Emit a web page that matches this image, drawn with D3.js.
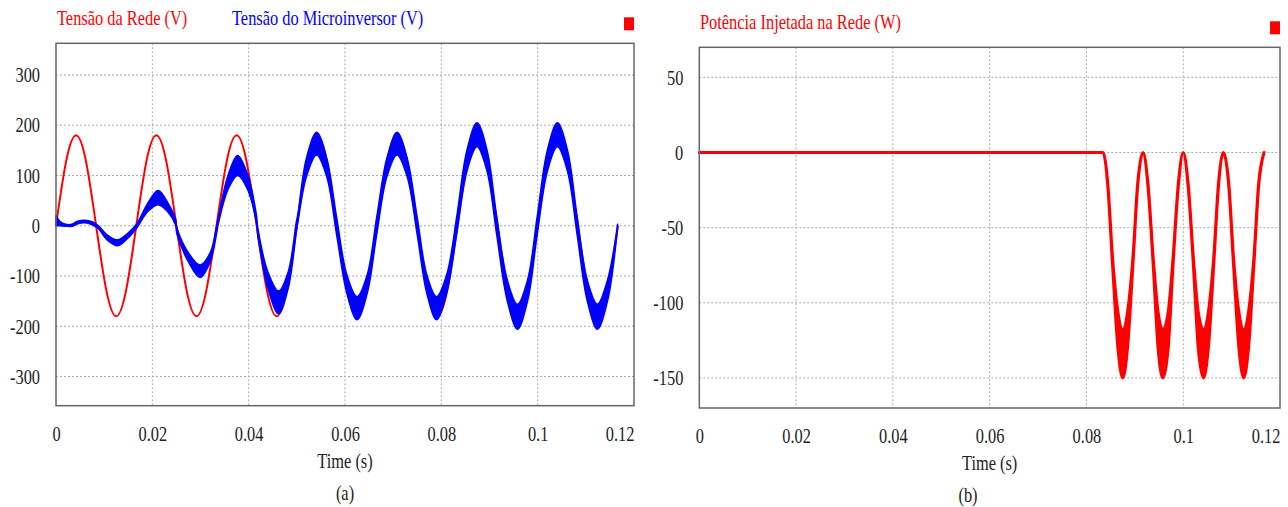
<!DOCTYPE html>
<html>
<head>
<meta charset="utf-8">
<script src="https://cdn.jsdelivr.net/npm/d3@7"></script>
<style>
    body { margin: 0; background: #fff; }
</style>
</head>
<body>
<svg id="chart" width="1288" height="507"></svg>
<script>
// tick labels
var timeTicks = [0, 0.02, 0.04, 0.06, 0.08, 0.1, 0.12];
var voltTicks = [-300, -200, -100, 0, 100, 200, 300];
var powerTicks = [-150, -100, -50, 0, 50];

// grid voltage (V)
var gridT = [0, 0.00208, 0.00417, 0.00625, 0.00833, 0.01042, 0.0125, 0.01458,
    0.01667, 0.01875, 0.02083, 0.02292, 0.025, 0.02708, 0.02917, 0.03125,
    0.03333, 0.03542, 0.0375, 0.03958, 0.04167, 0.04375, 0.04583, 0.04792,
    0.05, 0.05208, 0.05417, 0.05625, 0.05833, 0.06042, 0.0625, 0.06458,
    0.06667, 0.06875, 0.07083, 0.07292, 0.075, 0.07708, 0.07917, 0.08125,
    0.08333, 0.08542, 0.0875, 0.08958, 0.09167, 0.09375, 0.09583, 0.09792,
    0.1, 0.10208, 0.10417, 0.10625, 0.10833, 0.11042, 0.1125, 0.11458, 0.11667];
var gridV = [0, 127, 180, 127, 0, -127, -180, -127,
    0, 127, 180, 127, 0, -127, -180, -127,
    0, 127, 180, 127, 0, -127, -180, -127,
    0, 127, 180, 127, 0, -127, -180, -127,
    0, 127, 180, 127, 0, -127, -180, -127,
    0, 127, 180, 127, 0, -127, -180, -127,
    0, 127, 180, 127, 0, -127, -180, -127, 0];

// microinverter voltage (V): lower / upper edge of the ripple band
var invT = [0, 0.0008, 0.002, 0.0033, 0.0045, 0.006, 0.0075, 0.0088, 0.0106, 0.0128, 0.0149,
    0.0168, 0.019, 0.0212, 0.0232, 0.0248, 0.0251, 0.0275, 0.0299, 0.032, 0.0334,
    0.0337, 0.0357, 0.0377, 0.0398, 0.0416, 0.0419, 0.044, 0.0462, 0.0482, 0.0499,
    0.0502, 0.052, 0.0541, 0.0562, 0.0583, 0.0604, 0.0625, 0.0646, 0.0666,
    0.0687, 0.0708, 0.0729, 0.075, 0.077, 0.079, 0.0811, 0.0832,
    0.0853, 0.0874, 0.0895, 0.0915, 0.0937, 0.0958, 0.0979, 0.0999,
    0.102, 0.1041, 0.1062, 0.1082, 0.1103, 0.1124, 0.1145, 0.1166];
var invLo = [0, 0, -1, -1, 4, 6, 2, -6, -28, -40, -25,
    -4, 28, 42, 28, 2, -16, -72, -103, -72, -12,
    4, 72, 100, 72, 6, -20, -125, -175, -125, -12,
    6, 98, 141, 98, -20, -135, -187, -135, -16,
    98, 141, 98, -18, -135, -187, -135, -16,
    108, 157, 108, -18, -150, -206, -150, -18,
    108, 157, 108, -18, -150, -206, -150, -3];
var invHi = [20, 9, 3, 3, 9, 11, 8, 0, -18, -28, -15,
    4, 44, 70, 46, 14, -4, -54, -78, -54, 2,
    16, 100, 140, 102, 22, -4, -92, -130, -92, 8,
    22, 135, 186, 135, 14, -98, -141, -98, 18,
    135, 186, 135, 16, -98, -141, -98, 18,
    150, 205, 150, 18, -108, -156, -108, 18,
    150, 205, 150, 18, -108, -156, -108, 3];

// injected power (W): lower / upper edge
var powT = [0, 0.08, 0.0834, 0.0844, 0.0854, 0.0865, 0.0875, 0.0885, 0.0896, 0.0906,
    0.0917, 0.0927, 0.0938, 0.0948, 0.0958, 0.0969, 0.0979, 0.099,
    0.1, 0.101, 0.1021, 0.1031, 0.1042, 0.1052, 0.1063, 0.1073,
    0.1083, 0.1094, 0.1104, 0.1115, 0.1125, 0.1135, 0.1146, 0.1156, 0.1167];
var powLo = [0, 0, 0, -22, -75, -130, -150, -130, -75, -22,
    0, -22, -75, -130, -150, -130, -75, -22,
    0, -22, -75, -130, -150, -130, -75, -22,
    0, -22, -75, -130, -150, -130, -75, -22, 0];
var powHi = [0, 0, 0, -20, -70, -106, -118, -106, -70, -20,
    0, -20, -70, -106, -118, -106, -70, -20,
    0, -20, -70, -106, -118, -106, -70, -20,
    0, -20, -70, -106, -118, -106, -70, -20, 0];

var svg = d3.select("svg#chart"),
    font = "'Liberation Serif', 'Times New Roman', serif",
    squeeze = "scale(0.78,1)";

function label(g, x, y, s, anchor, color, size) {
    return g.append("text")
        .attr("transform", "translate(" + x + "," + y + ") " + squeeze)
        .attr("text-anchor", anchor)
        .attr("font-family", font)
        .attr("font-size", size)
        .attr("fill", color)
        .text(s);
}

function panel(box, yDomain, yTicks, caption, captionX) {
    var x = d3.scaleLinear().domain([0, 0.12]).range([box.left, box.right]),
        y = d3.scaleLinear().domain(yDomain).range([box.bottom, box.top]),
        g = svg.append("g");

    g.append("g").selectAll("line")
        .data(yTicks)
        .enter()
        .append("line")
        .attr("x1", box.left).attr("x2", box.right)
        .attr("y1", d => y(d)).attr("y2", d => y(d))
        .style("stroke", "#aaa")
        .style("stroke-dasharray", "2,2");

    g.append("g").selectAll("line")
        .data(timeTicks.slice(1, -1))
        .enter()
        .append("line")
        .attr("y1", box.top).attr("y2", box.bottom)
        .attr("x1", d => x(d)).attr("x2", d => x(d))
        .style("stroke", "#aaa")
        .style("stroke-dasharray", "2,2");

    var xa = g.append("g")
        .attr("transform", "translate(0," + box.bottom + ")")
        .call(d3.axisBottom(x).tickValues(timeTicks).tickSize(0).tickPadding(20)
            .tickFormat(d3.format("~g")));
    xa.select(".domain").remove();
    xa.selectAll("text")
        .attr("transform", squeeze)
        .attr("font-family", font)
        .attr("font-size", 21)
        .attr("fill", "#222")
        .attr("text-anchor", (d, i) => i == timeTicks.length - 1 ? "end" : "middle");

    var ya = g.append("g")
        .attr("transform", "translate(" + box.left + ",0)")
        .call(d3.axisLeft(y).tickValues(yTicks).tickSize(0).tickPadding(20.5)
            .tickFormat(d => String(d)));
    ya.select(".domain").remove();
    ya.selectAll("text")
        .attr("transform", squeeze)
        .attr("font-family", font)
        .attr("font-size", 21)
        .attr("fill", "#222");

    var mid = (box.left + box.right) / 2;
    label(g, mid, box.bottom + 62, "Time (s)", "middle", "#222", 21);
    label(g, captionX, box.bottom + 94, caption, "middle", "#222", 21);

    // little red marker above the top-right corner
    g.append("rect")
        .attr("x", box.right - 10).attr("y", box.top - 26)
        .attr("width", 10).attr("height", 13)
        .style("fill", "#ff0000");

    return { x: x, y: y, g: g, box: box };
}

// (a) voltages
var a = panel({ left: 56, right: 634, top: 43.3, bottom: 405.7 }, [-358, 363], voltTicks, "(a)", 345);

a.g.append("path")
    .datum(gridT.map((t, i) => [t, gridV[i]]))
    .attr("d", d3.line().x(d => a.x(d[0])).y(d => a.y(d[1])).curve(d3.curveNatural))
    .style("fill", "none")
    .style("stroke", "#ff0000")
    .style("stroke-width", 2);

a.g.append("path")
    .datum(invT.map((t, i) => [t, invLo[i], invHi[i]]))
    .attr("d", d3.area().x(d => a.x(d[0])).y0(d => a.y(d[1])).y1(d => a.y(d[2]))
        .curve(d3.curveCatmullRom))
    .style("fill", "#0000ff")
    .style("stroke", "#0000ff")
    .style("stroke-width", 1.5)
    .style("stroke-linejoin", "round");

a.g.append("rect")
    .attr("x", a.box.left).attr("y", a.box.top)
    .attr("width", a.box.right - a.box.left).attr("height", a.box.bottom - a.box.top)
    .style("fill", "none")
    .style("stroke", "#666")
    .style("stroke-width", 1.5);

label(a.g, 57, 25, "Tensão da Rede (V)", "start", "#ff0000", 21);
label(a.g, 232, 25, "Tensão do Microinversor (V)", "start", "#0000ff", 21);

// (b) power
var b = panel({ left: 699.3, right: 1280, top: 47.3, bottom: 408 }, [-170, 70], powerTicks, "(b)", 968);

b.g.append("path")
    .datum(powT.map((t, i) => [t, powLo[i], powHi[i]]))
    .attr("d", d3.area().x(d => b.x(d[0])).y0(d => b.y(d[1])).y1(d => b.y(d[2]))
        .curve(d3.curveMonotoneX))
    .style("fill", "#ff0000")
    .style("stroke", "#ff0000")
    .style("stroke-width", 3)
    .style("stroke-linejoin", "round");

b.g.append("rect")
    .attr("x", b.box.left).attr("y", b.box.top)
    .attr("width", b.box.right - b.box.left).attr("height", b.box.bottom - b.box.top)
    .style("fill", "none")
    .style("stroke", "#666")
    .style("stroke-width", 1.5);

label(b.g, 700, 29, "Potência Injetada na Rede (W)", "start", "#ff0000", 21);
</script>
</body>
</html>
